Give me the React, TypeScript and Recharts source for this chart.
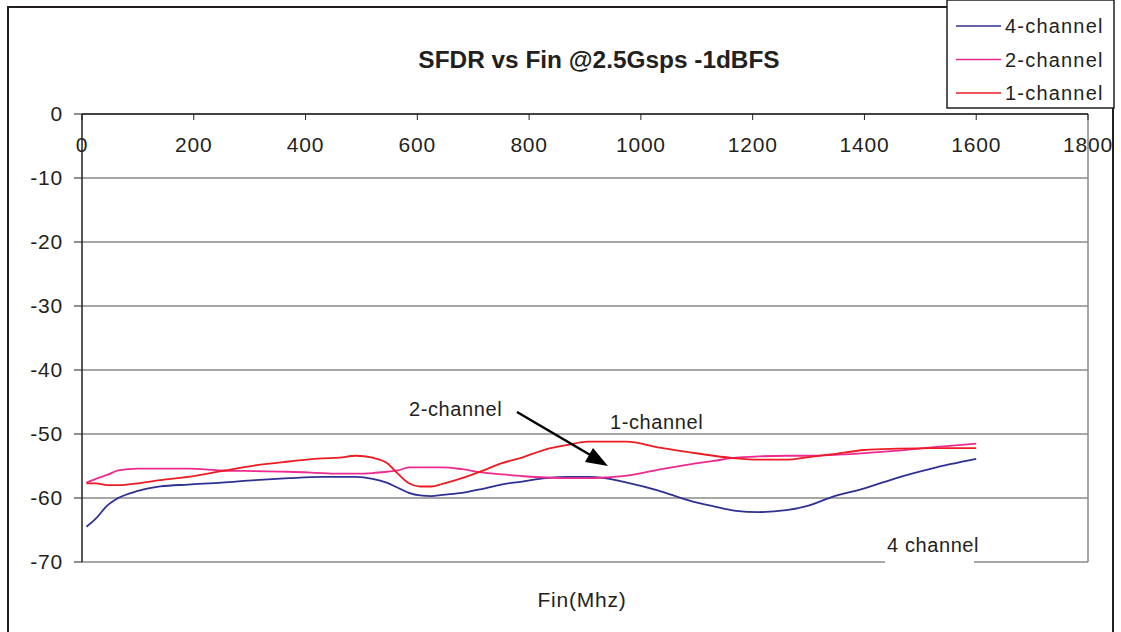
import { LineChart, Line, XAxis, YAxis, CartesianGrid, ReferenceLine } from "recharts";

const FONT = '"Liberation Sans", Arial, Helvetica, sans-serif';

// input frequency, MHz
const freqMHz = [
  8, 25, 45, 65, 100, 140, 190, 250, 310, 370, 430, 460, 490, 520, 545, 565, 585, 605, 625, 645,
  680, 715, 750, 790, 830, 870, 905, 935, 975, 1030, 1090, 1130, 1170, 1210, 1260, 1300, 1340,
  1400, 1460, 1520, 1600,
];

// SFDR, dB
const sfdr4ch = [
  -64.5, -63.2, -61.2, -60.0, -58.9, -58.2, -57.9, -57.6, -57.2, -56.9, -56.7, -56.7, -56.7, -57.0,
  -57.6, -58.4, -59.2, -59.6, -59.7, -59.5, -59.2, -58.6, -57.9, -57.4, -56.9, -56.7, -56.7, -56.9,
  -57.6, -58.8, -60.5, -61.3, -62.0, -62.2, -61.9, -61.2, -59.9, -58.5, -56.8, -55.4, -53.9,
];
const sfdr2ch = [
  -57.6, -57.0, -56.4, -55.7, -55.4, -55.4, -55.4, -55.7, -55.8, -55.9, -56.1, -56.2, -56.2, -56.1,
  -55.9, -55.7, -55.2, -55.2, -55.2, -55.2, -55.5, -56.0, -56.3, -56.6, -56.8, -56.9, -56.9, -56.8,
  -56.5, -55.6, -54.7, -54.2, -53.7, -53.5, -53.4, -53.4, -53.3, -53.0, -52.6, -52.1, -51.5,
];
const sfdr1ch = [
  -57.7, -57.7, -58.0, -58.0, -57.7, -57.2, -56.7, -55.8, -54.9, -54.3, -53.8, -53.7, -53.4, -53.7,
  -54.5, -56.2, -57.7, -58.2, -58.2, -57.8, -56.9, -55.8, -54.6, -53.6, -52.4, -51.7, -51.2, -51.2,
  -51.2, -52.1, -52.9, -53.4, -53.8, -54.0, -54.0, -53.6, -53.2, -52.5, -52.3, -52.2, -52.2,
];

const xTicks = [0, 200, 400, 600, 800, 1000, 1200, 1400, 1600, 1800];
const yTicks = [0, -10, -20, -30, -40, -50, -60, -70];

const series = [
  { key: "ch4", name: "4-channel", color: "#2e3192" },
  { key: "ch2", name: "2-channel", color: "#ec2a8f" },
  { key: "ch1", name: "1-channel", color: "#ed1c24" },
];

const data = freqMHz.map((f, i) => ({ f, ch4: sfdr4ch[i], ch2: sfdr2ch[i], ch1: sfdr1ch[i] }));

const ink = "#231f20";
const grid = "#8a8a8a";

export default function App() {
  return (
    <div style={{ position: "fixed", left: 0, top: 0, width: 1121, height: 632, background: "#fff", overflow: "hidden" }}>
      <LineChart width={1121} height={632} data={data} margin={{ top: 114, right: 33, bottom: 70, left: 0 }}>
        <CartesianGrid vertical={false} stroke={grid} strokeWidth={1.5} />
        <XAxis
          dataKey="f"
          type="number"
          domain={[0, 1800]}
          ticks={xTicks}
          interval={0}
          orientation="top"
          mirror
          tickSize={6}
          tickMargin={17}
          axisLine={{ stroke: ink, strokeWidth: 1.5 }}
          tickLine={{ stroke: ink }}
          tick={{ fill: ink, fontSize: 21, fontFamily: FONT, letterSpacing: 0.8 }}
        />
        <YAxis
          type="number"
          domain={[-70, 0]}
          ticks={yTicks}
          interval={0}
          width={82}
          tickSize={8}
          tickMargin={11}
          axisLine={{ stroke: ink, strokeWidth: 1.5 }}
          tickLine={{ stroke: ink }}
          tick={{ fill: ink, fontSize: 21, fontFamily: FONT, letterSpacing: 0.8 }}
        />
        <ReferenceLine x={1800} stroke={grid} strokeWidth={1.5} />
        {series.map((s) => (
          <Line
            key={s.key}
            type="monotone"
            dataKey={s.key}
            name={s.name}
            stroke={s.color}
            strokeWidth={1.8}
            dot={false}
            isAnimationActive={false}
          />
        ))}
      </LineChart>

      <svg width={1121} height={632} style={{ position: "absolute", left: 0, top: 0, pointerEvents: "none" }} fontFamily={FONT}>
        <rect x={8} y={7} width={1105} height={640} fill="none" stroke={ink} strokeWidth={2} />
        <text x={599} y={68} textAnchor="middle" fontSize={24.4} fontWeight="bold" fill={ink}>
          SFDR vs Fin @2.5Gsps -1dBFS
        </text>

        <text x={409} y={416} fontSize={20} fill={ink} letterSpacing={0.6}>2-channel</text>
        <line x1={517} y1={412} x2={592} y2={456} stroke="#000" strokeWidth={2.5} />
        <polygon points="608,466 585,462 593,448" fill="#000" />
        <text x={610} y={429} fontSize={20} fill={ink} letterSpacing={0.6}>1-channel</text>

        <rect x={885} y={528} width={89} height={44} fill="#fff" />
        <text x={887} y={552} fontSize={20} fill={ink} letterSpacing={0.6}>4 channel</text>

        <text x={582} y={607} textAnchor="middle" fontSize={21} fill={ink} letterSpacing={0.8}>Fin(Mhz)</text>

        <rect x={947} y={0} width={167} height={108} fill="#fff" stroke={ink} strokeWidth={1.5} />
        {series.map((s, i) => (
          <g key={s.key}>
            <line x1={956} x2={1001} y1={26 + i * 33.5} y2={26 + i * 33.5} stroke={s.color} strokeWidth={1.5} />
            <text x={1005} y={33 + i * 33.5} fontSize={20} fill={ink} letterSpacing={1.2}>{s.name}</text>
          </g>
        ))}
      </svg>
    </div>
  );
}
